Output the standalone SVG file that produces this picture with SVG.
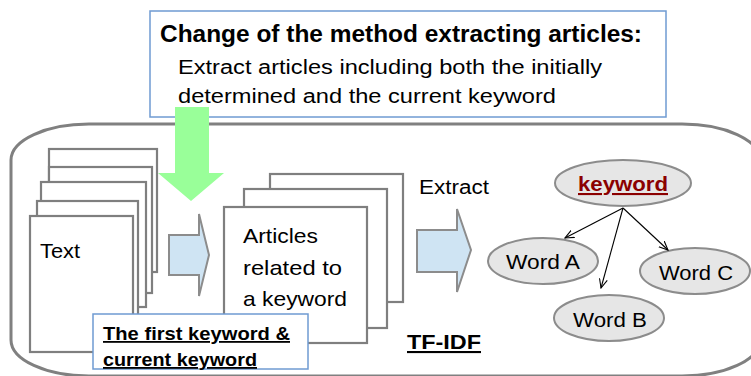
<svg xmlns="http://www.w3.org/2000/svg" width="751" height="376" viewBox="0 0 751 376">
  <defs>
    <style>
      .t { font-family: "Liberation Sans", Arial, sans-serif; fill: #000; }
      .b { font-weight: bold; }
      .page { fill: #fff; stroke: #7f7f7f; stroke-width: 2.2; }
      .oval { fill: #e6e6e6; stroke: #8c8c8c; stroke-width: 2; }
      .note { fill: #fff; stroke: #6f9bd2; stroke-width: 1.5; }
      .flow { fill: #cfe4f3; stroke: #8c8c8c; stroke-width: 2; }
      .edge { stroke: #000; stroke-width: 1.1; fill: none; marker-end: url(#vhead); }
    </style>
    <marker id="vhead" viewBox="0 0 10 10" refX="9" refY="5" markerWidth="10" markerHeight="10" markerUnits="userSpaceOnUse" orient="auto">
      <path d="M0,1 L9,5 L0,9" fill="none" stroke="#000" stroke-width="1.1"/>
    </marker>
  </defs>

  <!-- outer frame -->
  <g id="frame">
    <rect x="11" y="124" width="749" height="252" rx="78" ry="36" fill="none" stroke="#808080" stroke-width="3"/>
  </g>

  <!-- method note -->
  <g id="method-note">
    <rect class="note" x="150" y="11" width="516" height="106"/>
    <text class="t b" x="160" y="42" font-size="23" textLength="482" lengthAdjust="spacingAndGlyphs">Change of the method extracting articles:</text>
    <text class="t" x="178" y="74" font-size="20" textLength="424" lengthAdjust="spacingAndGlyphs">Extract articles including both the initially</text>
    <text class="t" x="178" y="103" font-size="20" textLength="378" lengthAdjust="spacingAndGlyphs">determined and the current keyword</text>
  </g>

  <!-- green down arrow -->
  <g id="change-arrow">
    <polygon points="175,107 209,107 209,173 224,173 191,201 158,173 175,173" fill="#99ff99"/>
  </g>

  <!-- stack of texts -->
  <g id="texts">
    <rect class="page" x="49" y="149" width="108" height="123"/>
    <rect class="page" x="49" y="167" width="103" height="126"/>
    <rect class="page" x="41" y="182" width="105" height="125"/>
    <rect class="page" x="37" y="201" width="101" height="130"/>
    <rect class="page" x="30" y="216" width="103" height="136"/>
    <text class="t" x="40" y="258" font-size="21" textLength="40" lengthAdjust="spacingAndGlyphs">Text</text>
  </g>

  <!-- filter arrow -->
  <g id="filter-arrow">
    <polygon class="flow" points="169,235 199,235 199,214 209,255 199,296 199,275 169,275"/>
  </g>

  <!-- stack of related articles -->
  <g id="articles">
    <rect class="page" x="270" y="174" width="133" height="128"/>
    <rect class="page" x="244" y="189" width="143" height="139"/>
    <rect class="page" x="224" y="207" width="143" height="136"/>
    <text class="t" font-size="21">
      <tspan x="243" y="243" textLength="75" lengthAdjust="spacingAndGlyphs">Articles</tspan>
      <tspan x="243" y="275" textLength="99" lengthAdjust="spacingAndGlyphs">related to</tspan>
      <tspan x="243" y="306" textLength="104" lengthAdjust="spacingAndGlyphs">a keyword</tspan>
    </text>
  </g>

  <!-- extract arrow -->
  <g id="extract">
    <text class="t" x="419" y="194" font-size="20" textLength="70" lengthAdjust="spacingAndGlyphs">Extract</text>
    <polygon class="flow" points="417,230 457,230 457,209 471,250 457,292 457,272 417,272"/>
  </g>

  <g id="tf-idf">
    <text class="t b" x="407" y="349" font-size="21" text-decoration="underline" textLength="74" lengthAdjust="spacingAndGlyphs">TF-IDF</text>
  </g>

  <!-- keyword graph -->
  <g id="keyword">
    <ellipse class="oval" cx="623" cy="183" rx="68" ry="23"/>
    <text class="b" x="578" y="191" font-size="21" font-family="Liberation Sans, Arial, sans-serif" fill="#8b0000" text-decoration="underline" textLength="90" lengthAdjust="spacingAndGlyphs">keyword</text>
  </g>
  <g id="word-a">
    <ellipse class="oval" cx="543" cy="261" rx="55" ry="23"/>
    <text class="t" x="506" y="269" font-size="20" textLength="74" lengthAdjust="spacingAndGlyphs">Word A</text>
  </g>
  <g id="word-c">
    <ellipse class="oval" cx="695" cy="271" rx="55" ry="23"/>
    <text class="t" x="659" y="280" font-size="20" textLength="74" lengthAdjust="spacingAndGlyphs">Word C</text>
  </g>
  <g id="word-b">
    <ellipse class="oval" cx="609" cy="318" rx="55" ry="23"/>
    <text class="t" x="573" y="327" font-size="20" textLength="74" lengthAdjust="spacingAndGlyphs">Word B</text>
  </g>

  <g id="connectors">
    <line class="edge" x1="623" y1="208" x2="565" y2="238"/>
    <line class="edge" x1="623" y1="208" x2="601" y2="288"/>
    <line class="edge" x1="623" y1="208" x2="668" y2="250"/>
  </g>

  <!-- keyword note -->
  <g id="keyword-note">
    <rect class="note" x="93" y="314" width="215" height="55"/>
    <text class="t b" x="103" y="340" font-size="18" text-decoration="underline" textLength="187" lengthAdjust="spacingAndGlyphs">The first keyword &amp; </text>
    <text class="t b" x="103" y="366" font-size="18" text-decoration="underline" textLength="154" lengthAdjust="spacingAndGlyphs">current keyword</text>
  </g>
</svg>
